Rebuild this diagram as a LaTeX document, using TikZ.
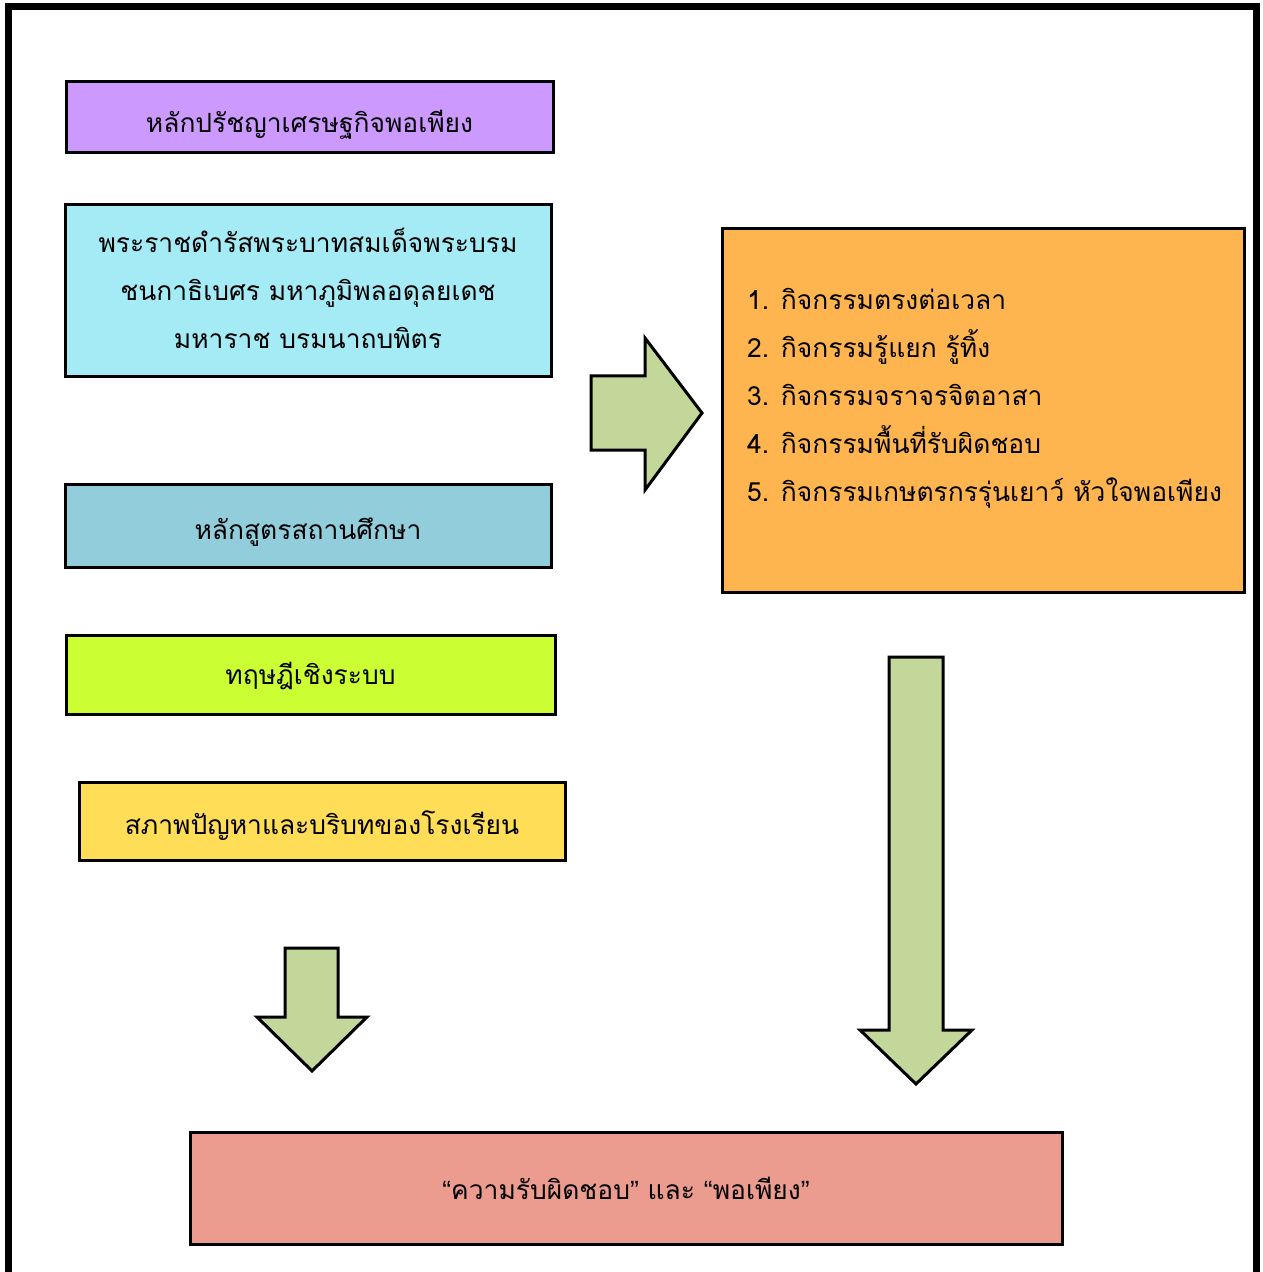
\documentclass[tikz,border=0pt]{standalone}
\usepackage{fontspec}
\setmainfont[Script=Thai]{Loma}
\newfontfamily\quotefont{Liberation Sans}
\usepackage{tikz}
\usetikzlibrary{positioning}
\definecolor{purplebox}{HTML}{CC99FF}
\definecolor{cyanbox}{HTML}{A5EBF5}
\definecolor{bluebox}{HTML}{92CDDC}
\definecolor{limebox}{HTML}{CCFF33}
\definecolor{yellowbox}{HTML}{FFDD57}
\definecolor{orangebox}{HTML}{FFB54F}
\definecolor{pinkbox}{HTML}{EB9C8E}
\definecolor{arrowgreen}{HTML}{C4D79B}
\tikzstyle{block} = [draw, line width=1.5pt, rectangle, align=center, inner sep=0pt, font=\fontsize{13.2}{24}\selectfont]
\tikzstyle{oneline} = [text height=#1, text depth=0pt]
\tikzstyle{fatarrow} = [draw, line width=1.5pt, fill=arrowgreen, line join=miter]
\newcommand{\thaiopen}{{\quotefont “}}
\newcommand{\thaiclose}{{\quotefont ”}}

\begin{document}
\begin{tikzpicture}[x=0.5pt, y=-0.5pt]
  \useasboundingbox (0,0) rectangle (1262,1272);
  % frame
  \draw[line width=3.5pt] (8,1280) -- (8,7) -- (1256,7) -- (1256,1280);
  % left column
  \node[block, oneline=15pt, fill=purplebox, minimum width=243.5pt, minimum height=35.5pt] (principle) at (309.5,117.5) {หลักปรัชญาเศรษฐกิจพอเพียง};
  \node[block, fill=cyanbox, minimum width=243pt, minimum height=86pt, text depth=3pt] (speech) at (308,291) {พระราชดำรัสพระบาทสมเด็จพระบรม\\ชนกาธิเบศร มหาภูมิพลอดุลยเดช\\มหาราช บรมนาถบพิตร};
  \node[block, oneline=14pt, fill=bluebox, minimum width=243pt, minimum height=41.5pt] (curriculum) at (308,525.5) {หลักสูตรสถานศึกษา};
  \node[block, oneline=10pt, fill=limebox, minimum width=244.5pt, minimum height=39.5pt] (systems) at (310.5,674.5) {ทฤษฎีเชิงระบบ};
  \node[block, oneline=13.5pt, fill=yellowbox, minimum width=243pt, minimum height=39pt] (context) at (322,821) {สภาพปัญหาและบริบทของโรงเรียน};
  % activities
  \node[block, fill=orangebox, minimum width=261pt, minimum height=181.5pt] (actbox) at (983,410.5) {};
  \node[anchor=west, align=left, font=\fontsize{13.2}{24}\selectfont] (acts) at (740,398) {1. กิจกรรมตรงต่อเวลา\\2. กิจกรรมรู้แยก รู้ทิ้ง\\3. กิจกรรมจราจรจิตอาสา\\4. กิจกรรมพื้นที่รับผิดชอบ\\5. กิจกรรมเกษตรกรรุ่นเยาว์ หัวใจพอเพียง};
  % result
  \node[block, oneline=11.5pt, fill=pinkbox, minimum width=436pt, minimum height=56pt] (result) at (626,1188) {\thaiopen ความรับผิดชอบ\thaiclose\ และ \thaiopen พอเพียง\thaiclose};
  % block arrows
  \draw[fatarrow] (591,376) -- (645,376) -- (645,338) -- (702,413) -- (645,490) -- (645,450) -- (591,450) -- cycle;
  \draw[fatarrow] (285,948) -- (338,948) -- (338,1017) -- (367,1017) -- (312,1071) -- (257,1017) -- (285,1017) -- cycle;
  \draw[fatarrow] (889,657) -- (943,657) -- (943,1030) -- (972,1030) -- (916,1084) -- (860,1030) -- (889,1030) -- cycle;
\end{tikzpicture}
\end{document}
